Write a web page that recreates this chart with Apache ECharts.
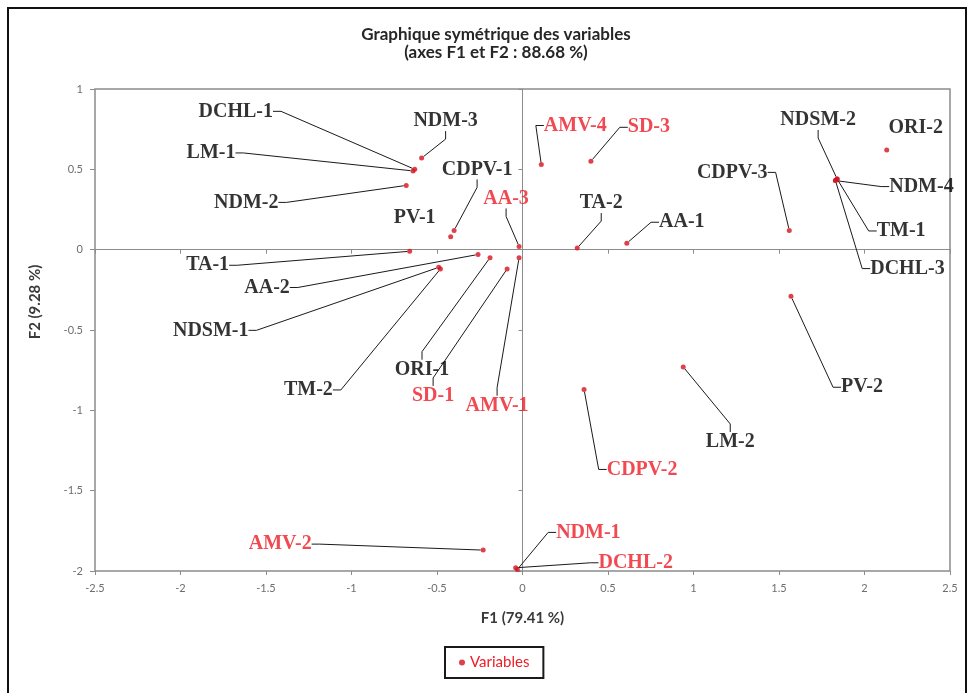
<!DOCTYPE html>
<html>
<head>
<meta charset="utf-8">
<script src="https://cdn.jsdelivr.net/npm/echarts@6/dist/echarts.min.js"></script>
<style>
html,body{margin:0;padding:0;background:#ffffff;}
#c{width:971px;height:693px;}
</style>
</head>
<body>
<div id="c"></div>
<script>
// ---- data ----
const variableNames = ['DCHL-1','LM-1','NDM-2','NDM-3','CDPV-1','PV-1','AA-3','TA-1','AA-2','NDSM-1',
  'TM-2','ORI-1','SD-1','AMV-1','AMV-4','SD-3','TA-2','AA-1','CDPV-3','NDSM-2',
  'NDM-4','TM-1','DCHL-3','ORI-2','PV-2','LM-2','CDPV-2','AMV-2','NDM-1','DCHL-2'];
const f1Values = [-0.63,-0.64,-0.68,-0.59,-0.40,-0.42,-0.02,-0.66,-0.26,-0.49,
  -0.48,-0.19,-0.09,-0.02,0.11,0.40,0.32,0.61,1.56,1.84,
  1.83,1.84,1.83,2.13,1.57,0.94,0.36,-0.23,-0.03,-0.04];
const f2Values = [0.50,0.49,0.40,0.57,0.12,0.08,0.02,-0.01,-0.03,-0.11,
  -0.12,-0.05,-0.12,-0.05,0.53,0.55,0.01,0.04,0.12,0.44,
  0.43,0.44,0.43,0.62,-0.29,-0.73,-0.87,-1.87,-1.99,-1.98];
const redLabelNames = ['AMV-4','SD-3','AA-3','SD-1','AMV-1','CDPV-2','AMV-2','NDM-1','DCHL-2'];
const noLeaderNames = ['PV-1','ORI-2'];
const seriesName = 'Variables';
const titleLines = ['Graphique symétrique des variables', '(axes F1 et F2 : 88.68 %)'];
const xAxisName = 'F1 (79.41 %)';
const yAxisName = 'F2 (9.28 %)';

// ---- label placement (pixel offsets of label centre from its point; layout only) ----
const labelOffsets = {
  'DCHL-1':[-179,-58], 'LM-1':[-202,-18], 'NDM-2':[-160,17], 'NDM-3':[24,-37],
  'CDPV-1':[23,-61], 'PV-1':[-36,-19], 'AA-3':[-13,-48], 'TA-1':[-202,14],
  'AA-2':[-211,33], 'NDSM-1':[-228,63], 'TM-2':[-132,121], 'ORI-1':[-68,112],
  'SD-1':[-74,127], 'AMV-1':[-22,148], 'AMV-4':[34,-39], 'SD-3':[58,-34],
  'TA-2':[24,-45], 'AA-1':[55,-21], 'CDPV-3':[-57,-58], 'NDSM-2':[-19,-59],
  'NDM-4':[86,6], 'TM-1':[64,52], 'DCHL-3':[72,88], 'ORI-2':[29,-22],
  'PV-2':[71,91], 'LM-2':[47,75], 'CDPV-2':[58,80], 'AMV-2':[-203,-6],
  'NDM-1':[71,-37], 'DCHL-2':[120,-5]
};

const RED = '#ee1c25';
const BLACK = '#000000';
const GRAY = '#8c8c8c';
const TICKTXT = '#6e6e6e';

const points = variableNames.map((n, i) => ({
  name: n,
  value: [f1Values[i], f2Values[i]],
  label: { color: redLabelNames.includes(n) ? RED : BLACK },
  labelLine: { show: !noLeaderNames.includes(n) }
}));

const chart = echarts.init(document.getElementById('c'), null, { renderer: 'canvas' });

const option = {
  animation: false,
  backgroundColor: '#ffffff',
  title: {
    text: titleLines.join('\n'),
    left: 491,
    top: 21,
    textAlign: 'center',
    textStyle: { fontFamily: 'Lato', fontSize: 17, fontWeight: 'bold', color: '#262626', lineHeight: 18 }
  },
  legend: {
    data: [seriesName],
    left: 445,
    top: 647,
    orient: 'horizontal',
    borderColor: '#1a1a1a',
    borderWidth: 2,
    padding: [8, 14, 8, 14],
    icon: 'circle',
    itemWidth: 6,
    itemHeight: 6,
    itemGap: 5,
    textStyle: { fontFamily: 'Lato', fontSize: 15, color: RED }
  },
  graphic: [{
    type: 'rect',
    silent: true,
    z: -10,
    shape: { x: 8, y: 8, width: 958, height: 690 },
    style: { fill: 'none', stroke: '#111111', lineWidth: 2 }
  }],
  grid: {
    left: 95, right: 21, top: 89, bottom: 122,
    show: true, borderColor: GRAY, borderWidth: 1.5,
    containLabel: false, outerBoundsMode: 'none'
  },
  xAxis: [{
    type: 'value', min: -2.5, max: 2.5, interval: 0.5, position: 'bottom',
    axisLine: { show: false, onZero: false },
    axisTick: { show: true, length: 4, lineStyle: { color: GRAY } },
    axisLabel: { color: TICKTXT, fontFamily: 'Lato', fontSize: 11, margin: 12 },
    splitLine: { show: false },
    name: xAxisName, nameLocation: 'middle', nameGap: 40,
    nameTextStyle: { fontFamily: 'Lato', fontSize: 15, fontWeight: 'bold', color: '#3a3a3a' }
  }, {
    type: 'value', min: -2.5, max: 2.5, interval: 0.5, position: 'bottom',
    axisLine: { show: true, onZero: true, onZeroAxisIndex: 0, lineStyle: { color: GRAY, width: 1 } },
    axisTick: { show: true, length: 4, lineStyle: { color: GRAY } },
    axisLabel: { show: false },
    splitLine: { show: false }
  }],
  yAxis: [{
    type: 'value', min: -2, max: 1, interval: 0.5, position: 'left',
    axisLine: { show: false, onZero: false },
    axisTick: { show: true, length: 5, lineStyle: { color: GRAY } },
    axisLabel: { color: TICKTXT, fontFamily: 'Lato', fontSize: 11, margin: 12 },
    splitLine: { show: false },
    name: yAxisName, nameLocation: 'middle', nameGap: 52,
    nameTextStyle: { fontFamily: 'Lato', fontSize: 15, fontWeight: 'bold', color: '#3a3a3a', padding: [0, 0, 0, 56] }
  }, {
    type: 'value', min: -2, max: 1, interval: 0.5, position: 'left',
    axisLine: { show: true, onZero: true, onZeroAxisIndex: 0, lineStyle: { color: GRAY, width: 1 } },
    axisTick: { show: true, length: 4, lineStyle: { color: GRAY } },
    axisLabel: { show: false },
    splitLine: { show: false }
  }],
  series: [{
    name: seriesName,
    type: 'scatter',
    xAxisIndex: 0,
    yAxisIndex: 0,
    symbol: 'circle',
    symbolSize: 5,
    itemStyle: { color: '#d4111f' },
    z: 5,
    data: points,
    label: {
      show: true,
      position: 'inside',
      formatter: '{b}',
      fontFamily: 'Liberation Serif',
      fontWeight: 'bold',
      fontSize: 20,
      textBorderWidth: 0,
      textBorderColor: 'transparent',
      textShadowBlur: 0
    },
    labelLine: {
      show: true,
      length2: 8,
      lineStyle: { color: '#1a1a1a', width: 1 }
    },
    labelLayout: function (params) {
      const off = labelOffsets[variableNames[params.dataIndex]] || [0, 0];
      return { dx: off[0], dy: off[1], hideOverlap: false };
    },
    emphasis: { disabled: true }
  }]
};

chart.setOption(option);
</script>
</body>
</html>
